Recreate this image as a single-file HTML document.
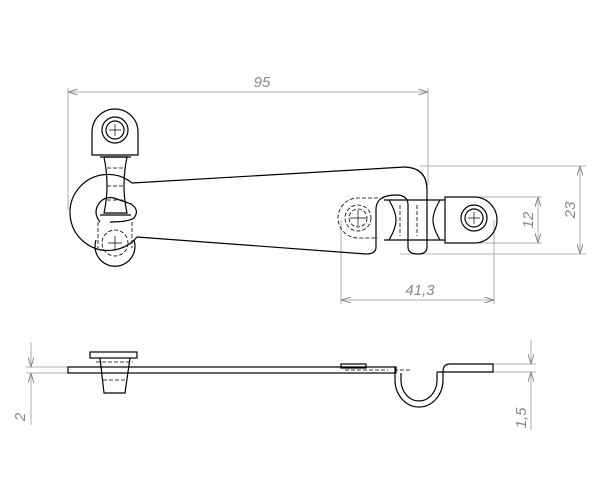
<!DOCTYPE html>
<html><head><style>body{margin:0;background:#fff}svg{display:block}</style></head><body>
<svg width="601" height="498" viewBox="0 0 601 498" xmlns="http://www.w3.org/2000/svg" font-family="Liberation Sans, sans-serif">
<defs>
<marker id="a" viewBox="0 0 10 6" refX="10" refY="3" markerWidth="10" markerHeight="6" orient="auto-start-reverse" markerUnits="userSpaceOnUse"><path d="M0,0 L10,3 L0,6" fill="none" stroke="#888" stroke-width="1"/></marker>
</defs>
<g stroke="#999" stroke-width="0.8" fill="none">
<line x1="68" y1="92" x2="428" y2="92" marker-start="url(#a)" marker-end="url(#a)"/>
<line x1="68" y1="88" x2="68" y2="210"/>
<line x1="428" y1="88" x2="428" y2="185"/>
<line x1="420" y1="166" x2="586" y2="166"/>
<line x1="400" y1="254" x2="586" y2="254"/>
<line x1="580" y1="166" x2="580" y2="254" marker-start="url(#a)" marker-end="url(#a)"/>
<line x1="476" y1="197" x2="542" y2="197"/>
<line x1="476" y1="243" x2="542" y2="243"/>
<line x1="538" y1="197" x2="538" y2="243" marker-start="url(#a)" marker-end="url(#a)"/>
<line x1="341" y1="220" x2="341" y2="304"/>
<line x1="494" y1="220" x2="494" y2="304"/>
<line x1="341" y1="300" x2="494" y2="300" marker-start="url(#a)" marker-end="url(#a)"/>
<line x1="26" y1="367" x2="68" y2="367"/>
<line x1="26" y1="373" x2="68" y2="373"/>
<line x1="31" y1="342" x2="31" y2="367" marker-end="url(#a)"/>
<line x1="31" y1="373" x2="31" y2="425" marker-start="url(#a)"/>
<line x1="493" y1="364" x2="536" y2="364"/>
<line x1="493" y1="372" x2="536" y2="372"/>
<line x1="531" y1="340" x2="531" y2="364" marker-end="url(#a)"/>
<line x1="531" y1="372" x2="531" y2="430" marker-start="url(#a)"/>
</g>
<g fill="#888" font-style="italic" font-size="15">
<text x="262" y="87" text-anchor="middle">95</text>
<text x="420" y="295" text-anchor="middle">41,3</text>
<text transform="translate(575,210) rotate(-90)" text-anchor="middle">23</text>
<text transform="translate(533,220) rotate(-90)" text-anchor="middle">12</text>
<text transform="translate(25,417) rotate(-90)" text-anchor="middle">2</text>
<text transform="translate(526,418) rotate(-90)" text-anchor="middle">1,5</text>
</g>
<g stroke="#000" stroke-width="1.2" fill="none">
<path d="M132,183 L405,167 Q427,168 427,190 L427,247 Q427,254 418,254 Q408,254 408,247 L408,205 Q408,195 396,195 Q377,195 376,208 L376,247 Q376,254 366,254 L137,237"/>
<path d="M132,183 A38,38 0 1 0 137,237"/>
<path d="M92,155 L92,132 A23,23 0 0 1 138,132 L138,155 Z"/>
<circle cx="115" cy="130" r="13"/><circle cx="115" cy="130" r="9"/>
<path d="M104,157 L127,157 Q121,186 127,213 L104,213 Q110,186 104,157"/>
<path d="M100,157 L131,157 M100,215 L131,215"/>
<path d="M100,222 Q92,212 100,202 Q106,196 114,198 L131,204 Q140,210 134,218 Q128,222 110,222"/>
<path d="M96,240 A20,20 0 1 0 134,240"/>
<path d="M445,197 L474,197 A22,22 0 0 1 474,243 L445,243 Z"/>
<circle cx="474" cy="218" r="13"/><circle cx="474" cy="218" r="9"/>
<path d="M384,200 L445,200 M384,240 L445,240"/>
<path d="M389,200 Q396,212 396,220 Q396,228 389,240 M440,200 Q433,212 433,220 Q433,228 440,240"/>
</g>
<g stroke="#000" stroke-width="0.8" fill="none" stroke-dasharray="4,2">
<path d="M98,222 L98,248 M132,222 L132,248"/>
<path d="M107,168 L124,168 M107,186 L124,186 M107,200 L124,200"/>
<circle cx="115" cy="243" r="13"/>
<path d="M378,198 L358,198 A20,20 0 0 0 358,238 L378,238"/>
<circle cx="358" cy="218" r="13"/><circle cx="358" cy="218" r="9"/>
<path d="M400,205 L400,236 M417,205 L417,236"/>
</g>
<g stroke="#000" stroke-width="0.7">
<path d="M115,124 V136 M109,130 H121 M474,212 V224 M468,218 H480 M358,210 V226 M350,218 H366 M115,236 V250 M108,243 H122"/>
</g>
<g stroke="#000" stroke-width="1.2" fill="none">
<rect x="68" y="367" width="328" height="6"/>
<rect x="90" y="352" width="47" height="6"/>
<path d="M100,358 L104,393 L125,393 L130,358"/>
<path d="M395,367 L395,380 A24,27 0 0 0 443,380 L443,372 M401,373 L401,380 A18,21 0 0 0 437,380 L437,372"/>
<path d="M443,372 Q443,364 450,364 L493,364 L493,372 L437,372"/>
<rect x="341" y="364" width="25" height="4"/>
</g>
<g stroke="#000" stroke-width="0.8" fill="none" stroke-dasharray="4,2">
<path d="M96,362 L133,362 M103,380 L127,380 M345,370 L388,370 M410,370 L395,370"/>
</g>
</svg>
</body></html>
